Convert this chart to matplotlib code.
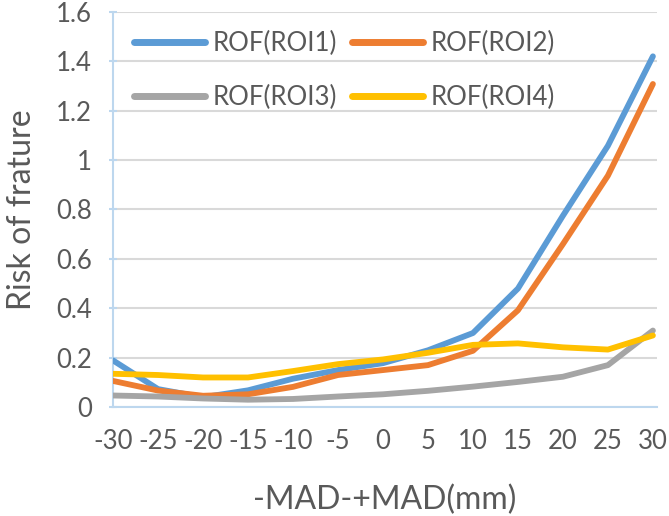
import numpy as np
import matplotlib
matplotlib.use("Agg")
from matplotlib import pyplot as plt

# x categories (mm)
mad = [-30, -25, -20, -15, -10, -5, 0, 5, 10, 15, 20, 25, 30]

rof_roi1 = [0.189, 0.073, 0.040, 0.068, 0.115, 0.150, 0.178, 0.230, 0.300, 0.480, 0.775, 1.058, 1.420]
rof_roi2 = [0.106, 0.067, 0.046, 0.052, 0.082, 0.130, 0.150, 0.170, 0.228, 0.392, 0.660, 0.937, 1.308]
rof_roi3 = [0.047, 0.043, 0.035, 0.030, 0.033, 0.043, 0.052, 0.066, 0.083, 0.102, 0.123, 0.170, 0.310]
rof_roi4 = [0.135, 0.130, 0.120, 0.120, 0.146, 0.174, 0.193, 0.220, 0.252, 0.258, 0.242, 0.233, 0.290]

series = [
    ("ROF(ROI1)", rof_roi1, "#5B9BD5"),
    ("ROF(ROI2)", rof_roi2, "#ED7D31"),
    ("ROF(ROI3)", rof_roi3, "#A5A5A5"),
    ("ROF(ROI4)", rof_roi4, "#FFC000"),
]

yticks = [0, 0.2, 0.4, 0.6, 0.8, 1, 1.2, 1.4, 1.6]
ytick_labels = ["0", "0.2", "0.4", "0.6", "0.8", "1", "1.2", "1.4", "1.6"]

plt.rcParams['font.family'] = ['Lato', 'DejaVu Sans']
txt = "#595959"

fig = plt.figure(figsize=(6.69, 5.16), dpi=100)
ax = fig.add_axes([0.169, 0.211, 0.813, 0.766])

handles = []
for name, vals, col in series:
    h, = ax.plot(mad, vals, color=col, lw=4.2, solid_capstyle='round',
                 solid_joinstyle='round', label=name, zorder=3)
    handles.append(h)

ax.set_xlim(-30, 30.45)
ax.set_ylim(0, 1.6)
ax.set_xticks(mad)
ax.set_xticklabels([str(v) for v in mad])
ax.set_yticks(yticks)
ax.set_yticklabels(ytick_labels)

ax.grid(axis='y', color="#D9D9D9", lw=1.5, zorder=0)
for s in ['top', 'right']:
    ax.spines[s].set_visible(False)
ax.spines['left'].set_color("#BDD7EE")
ax.spines['bottom'].set_color("#BDD7EE")
ax.spines['left'].set_linewidth(1.5)
ax.spines['bottom'].set_linewidth(1.5)
ax.tick_params(axis='y', direction='inout', length=6, width=1.5, color="#BDD7EE",
               labelsize=18.5, labelcolor=txt, pad=12)
ax.tick_params(axis='x', length=0, labelsize=18.5, labelcolor=txt, pad=16)

ax.set_ylabel("Risk of frature", fontsize=23, color=txt, labelpad=14)
ax.set_xlabel("-MAD-+MAD(mm)", fontsize=23, color=txt, labelpad=22)

# legend fills column by column, so order handles to read row-wise
order = [0, 2, 1, 3]
leg = ax.legend(handles=[handles[i] for i in order], ncol=2, loc='upper left',
                bbox_to_anchor=(0.01, 0.99), frameon=False, fontsize=18.5,
                handlelength=2.75, handletextpad=0.3, columnspacing=0.6,
                labelspacing=1.1, borderaxespad=0.2)
for t in leg.get_texts():
    t.set_color(txt)
for l in leg.get_lines():
    l.set_linewidth(5)
    l.set_solid_capstyle('round')

fig.savefig("out.png", dpi=100)
